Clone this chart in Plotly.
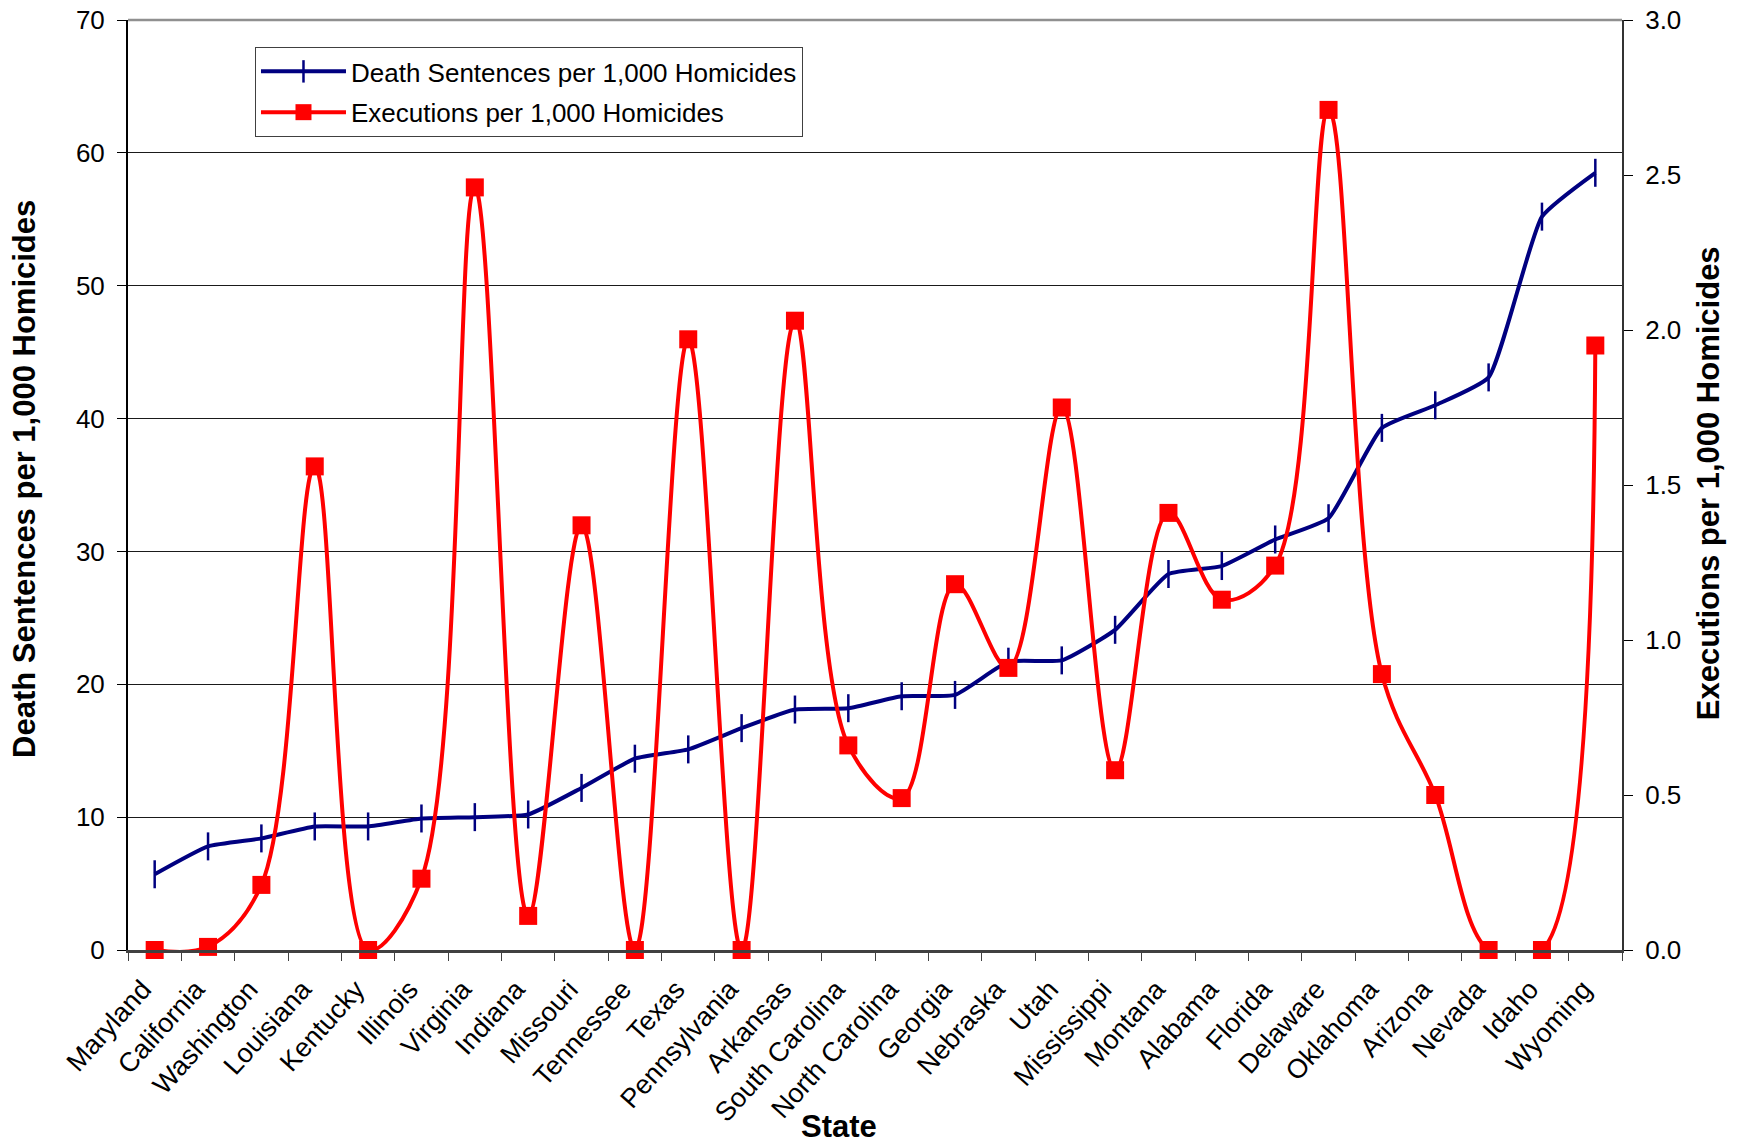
import plotly.graph_objects as go

states = ["Maryland", "California", "Washington", "Louisiana", "Kentucky", "Illinois",
          "Virginia", "Indiana", "Missouri", "Tennessee", "Texas", "Pennsylvania",
          "Arkansas", "South Carolina", "North Carolina", "Georgia", "Nebraska", "Utah",
          "Mississippi", "Montana", "Alabama", "Florida", "Delaware", "Oklahoma",
          "Arizona", "Nevada", "Idaho", "Wyoming"]

death_sentences = [5.7, 7.8, 8.4, 9.3, 9.3, 9.9, 10.0, 10.2, 12.2, 14.4, 15.1, 16.7,
                   18.1, 18.2, 19.1, 19.2, 21.7, 21.8, 24.1, 28.3, 28.9, 30.9, 32.5,
                   39.3, 41.0, 43.1, 55.2, 58.5]

executions = [0.0, 0.01, 0.21, 1.56, 0.0, 0.23, 2.46, 0.11, 1.37, 0.0, 1.97, 0.0,
              2.03, 0.66, 0.49, 1.18, 0.91, 1.75, 0.58, 1.41, 1.13, 1.24, 2.71,
              0.89, 0.50, 0.0, 0.0, 1.95]

left_ticks = [0, 10, 20, 30, 40, 50, 60, 70]
right_ticks = [0.0, 0.5, 1.0, 1.5, 2.0, 2.5, 3.0]

FONT = "Liberation Sans, Arial, sans-serif"

fig = go.Figure()
fig.add_trace(go.Scatter(
    x=states, y=death_sentences, name="Death Sentences per 1,000 Homicides",
    mode="lines+markers", legendgroup="a",
    line=dict(color="#000080", width=4, shape="spline", smoothing=0.45),
    marker=dict(symbol="line-ns", size=20, line=dict(color="#000080", width=2.5), color="#000080"),
    yaxis="y",
))
fig.add_trace(go.Scatter(
    x=states, y=executions, name="Executions per 1,000 Homicides",
    mode="lines+markers", legendgroup="b",
    line=dict(color="#FF0000", width=4, shape="spline", smoothing=1.0),
    marker=dict(symbol="square", size=18, color="#FF0000"),
    yaxis="y2", cliponaxis=False,
))

fig.update_layout(
    width=1739, height=1145,
    margin=dict(l=128, r=117, t=20, b=195, autoexpand=False),
    paper_bgcolor="white", plot_bgcolor="white",
    font=dict(family=FONT, size=26, color="black"),
    showlegend=True,
    legend=dict(x=0.085, y=0.971, xanchor="left", yanchor="top",
                bgcolor="white", bordercolor="#404040", borderwidth=1,
                font=dict(size=26, family=FONT), tracegroupgap=4,
                itemwidth=85),
    xaxis=dict(type="category", range=[-0.5, 27.5], tickangle=-48,
               ticks="outside", tickson="boundaries", ticklen=8, tickcolor="#404040",
               showline=True, linecolor="#404040", linewidth=2.5, showgrid=False,
               tickfont=dict(size=27, family=FONT), automargin=False,
               ticklabelstandoff=10, ticklabelshift=-12),
    yaxis=dict(range=[0, 70], tickvals=left_ticks, ticks="outside", ticklen=9,
               tickcolor="black", showline=True, linecolor="black", linewidth=2,
               showgrid=True, gridcolor="#1a1a1a", gridwidth=1, zeroline=False,
               tickfont=dict(size=26, family=FONT), automargin=False,
               ticklabelstandoff=7, ticklabeloverflow="allow"),
    yaxis2=dict(range=[0, 3], tickvals=right_ticks, tickformat=".1f", overlaying="y",
                side="right", ticks="outside", ticklen=9, tickcolor="black",
                showline=True, linecolor="#333333", linewidth=2, showgrid=False,
                zeroline=False, tickfont=dict(size=26, family=FONT), automargin=False,
                ticklabelstandoff=7, ticklabeloverflow="allow"),
)
fig.add_shape(type="line", xref="paper", yref="paper", x0=0, x1=1, y0=1, y1=1,
              line=dict(color="#909090", width=2.5))

fig.add_annotation(text="<b>Death Sentences per 1,000 Homicides</b>", xref="paper", yref="paper",
                   x=-0.0693, y=0.507, xanchor="center", yanchor="middle", textangle=-90,
                   showarrow=False, font=dict(size=31, family=FONT, color="black"))
fig.add_annotation(text="<b>Executions per 1,000 Homicides</b>", xref="paper", yref="paper",
                   x=1.0576, y=0.502, xanchor="center", yanchor="middle", textangle=-90,
                   showarrow=False, font=dict(size=31, family=FONT, color="black"))
fig.add_annotation(text="<b>State</b>", xref="paper", yref="paper",
                   x=0.476, y=-0.1895, xanchor="center", yanchor="middle",
                   showarrow=False, font=dict(size=31, family=FONT, color="black"))

fig.write_html("out.html", config={"displayModeBar": False},
               post_script="document.body.style.margin='0';document.body.style.overflow='hidden';")
